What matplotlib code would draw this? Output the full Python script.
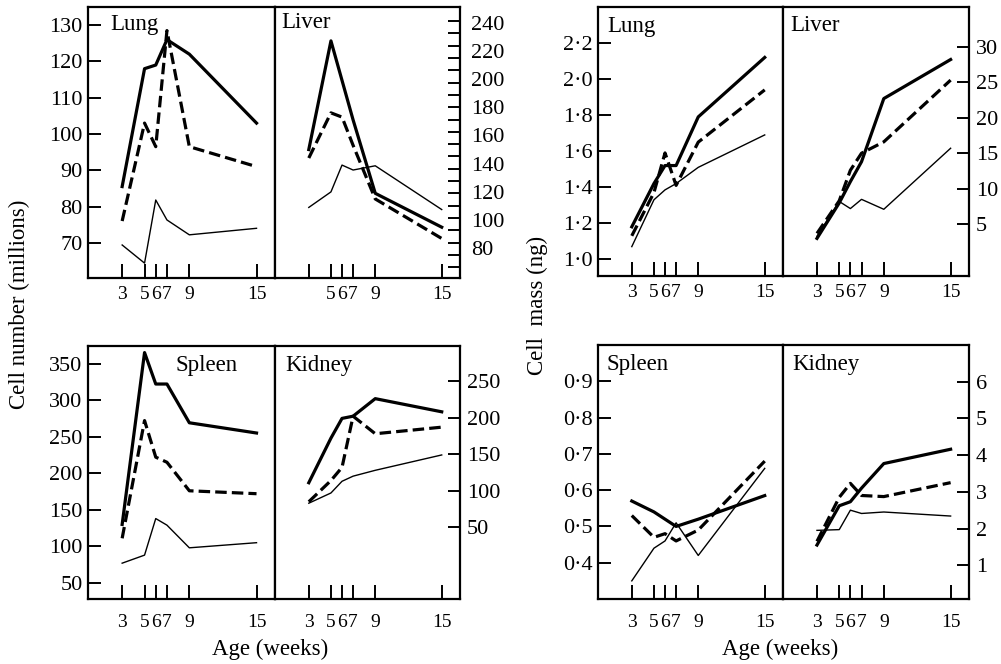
import numpy as np
import matplotlib
matplotlib.use('Agg')
import matplotlib.pyplot as plt
from matplotlib.ticker import FixedLocator, FuncFormatter

plt.rcParams['font.family'] = ['Liberation Serif', 'DejaVu Serif']

W = 1001
H = 664

ages = [3, 5, 6, 7, 9, 15]

# cell number (millions)
lung_thick = [85.5, 118, 119, 126, 122, 103]
lung_dash = [76, 103, 96.5, 128.5, 96.5, 91]
lung_thin = [69.4, 64.4, 81.8, 76.3, 72.2, 74]

liver_thick = [150, 227, 199, 171, 119, 95]
liver_dash = [144, 176, 173, 153, 115, 87]
liver_thin = [109, 120, 139, 135.5, 138.5, 107.5]

spleen_thick = [130, 365, 322, 322, 269, 255]
spleen_dash = [111, 272, 222, 215, 176, 172]
spleen_thin = [77, 88, 138, 129, 98, 105]

kidney_thick = [111, 172, 199, 202, 226, 208]
kidney_dash = [85, 114, 132, 202, 178, 187]
kidney_thin = [83, 97, 113, 120, 128, 149]

# cell mass (ng)
mlung_thick = [1.18, 1.42, 1.52, 1.52, 1.79, 2.12]
mlung_dash = [1.13, 1.37, 1.59, 1.41, 1.65, 1.94]
mlung_thin = [1.07, 1.33, 1.385, 1.42, 1.51, 1.69]

mliver_thick = [3.0, 8.0, 11.0, 13.8, 22.7, 28.2]
mliver_dash = [3.7, 8.3, 12.6, 15.0, 16.6, 25.3]
mliver_thin = [3.3, 8.2, 7.2, 8.5, 7.1, 15.7]

mspleen_thick = [0.57, 0.54, 0.52, 0.50, 0.52, 0.585]
mspleen_dash = [0.53, 0.47, 0.48, 0.46, 0.49, 0.68]
mspleen_thin = [0.35, 0.44, 0.46, 0.51, 0.42, 0.66]

mkidney_thick = [1.55, 2.62, 2.73, 3.1, 3.77, 4.16]
mkidney_dash = [1.65, 2.85, 3.23, 2.9, 2.87, 3.25]
mkidney_thin = [1.95, 1.97, 2.5, 2.41, 2.45, 2.34]

xlabels = ['3', '5', '6', '7', '9', '15']
xlabels_no3 = ['', '5', '6', '7', '9', '15']

fig = plt.figure(figsize=(W / 100, H / 100), dpi=100)


def add_panel(x0, y0, x1, y1):
    return fig.add_axes([x0 / W, 1 - y1 / H, (x1 - x0) / W, (y1 - y0) / H])


def dot_fmt(v, p):
    return ('%.1f' % v).replace('.', '\u00b7')


def panel(ax, thick, dash, thin, ylim, title, tx, ty, labels, xpad):
    ax.plot(ages, thin, color='black', lw=1.0)
    ax.plot(ages, dash, color='black', lw=2.3, linestyle=(0, (3.6, 1.6)))
    ax.plot(ages, thick, color='black', lw=2.3)
    ax.set_xlim(-0.05, 16.65)
    ax.set_ylim(*ylim)
    ax.set_xticks(ages)
    ax.set_xticklabels(labels)
    ax.tick_params(axis='x', direction='in', length=10, width=1.4, labelsize=14, pad=xpad)
    for s in ax.spines.values():
        s.set_linewidth(1.6)
    ax.text(tx, ty, title, transform=ax.transAxes, ha='left', va='top', fontsize=16.5)


def left_axis(ax, ticks, fmt=None):
    ax.yaxis.set_major_locator(FixedLocator(ticks))
    if fmt is not None:
        ax.yaxis.set_major_formatter(FuncFormatter(fmt))
    ax.tick_params(axis='y', direction='in', length=9, width=1.4, labelsize=16, pad=4)


def right_axis(ax, ticks, fmt=None):
    ax.yaxis.tick_right()
    ax.yaxis.set_major_locator(FixedLocator(ticks))
    if fmt is not None:
        ax.yaxis.set_major_formatter(FuncFormatter(fmt))
    ax.tick_params(axis='y', direction='in', length=9, width=1.4, labelsize=16, pad=5)


# cell number, top row
ax = add_panel(88, 7, 275, 278)
panel(ax, lung_thick, lung_dash, lung_thin, (60.3, 135), 'Lung', 0.117, 0.975, xlabels, 6)
left_axis(ax, [70, 80, 90, 100, 110, 120, 130])

ax = add_panel(275, 7, 460, 278)
panel(ax, liver_thick, liver_dash, liver_thin, (59, 251), 'Liver', 0.033, 0.98, xlabels_no3, 6)
right_axis(ax, [80, 100, 120, 140, 160, 180, 200, 220, 240])
ax.tick_params(axis='y', which='major', length=0, pad=8)
ax.yaxis.set_minor_locator(FixedLocator(np.linspace(66.7, 241, 21)))
ax.tick_params(axis='y', which='minor', direction='in', length=9, width=1.4, right=True, left=False)

# cell number, bottom row
ax = add_panel(88, 346, 275, 599)
panel(ax, spleen_thick, spleen_dash, spleen_thin, (28, 374), 'Spleen', 0.47, 0.965, xlabels, 11)
left_axis(ax, [50, 100, 150, 200, 250, 300, 350])

ax = add_panel(275, 346, 460, 599)
panel(ax, kidney_thick, kidney_dash, kidney_thin, (-48, 298), 'Kidney', 0.054, 0.965, xlabels, 11)
right_axis(ax, [50, 100, 150, 200, 250])

# cell mass, top row
ax = add_panel(598, 7, 783, 276)
panel(ax, mlung_thick, mlung_dash, mlung_thin, (0.907, 2.40), 'Lung', 0.048, 0.965, xlabels, 6)
left_axis(ax, [1.0, 1.2, 1.4, 1.6, 1.8, 2.0, 2.2], dot_fmt)

ax = add_panel(783, 7, 969, 276)
panel(ax, mliver_thick, mliver_dash, mliver_thin, (-2.3, 35.6), 'Liver', 0.038, 0.97, xlabels, 6)
right_axis(ax, [5, 10, 15, 20, 25, 30])

# cell mass, bottom row
ax = add_panel(598, 345, 783, 599)
panel(ax, mspleen_thick, mspleen_dash, mspleen_thin, (0.3, 1.0), 'Spleen', 0.048, 0.965, xlabels, 11)
left_axis(ax, [0.4, 0.5, 0.6, 0.7, 0.8, 0.9], dot_fmt)

ax = add_panel(783, 345, 969, 599)
panel(ax, mkidney_thick, mkidney_dash, mkidney_thin, (0.08, 7.0), 'Kidney', 0.048, 0.965, xlabels, 11)
right_axis(ax, [1, 2, 3, 4, 5, 6])

# axis titles
fig.text(19 / W, 1 - 304 / H, 'Cell number (millions)', rotation=90, ha='center', va='center', fontsize=16.5)
fig.text(537 / W, 1 - 305 / H, 'Cell  mass (ng)', rotation=90, ha='center', va='center', fontsize=16.5)
fig.text(270 / W, 1 - 649 / H, 'Age (weeks)', ha='center', va='center', fontsize=16.5)
fig.text(780 / W, 1 - 649 / H, 'Age (weeks)', ha='center', va='center', fontsize=16.5)

fig.savefig('out.png', dpi=100)
